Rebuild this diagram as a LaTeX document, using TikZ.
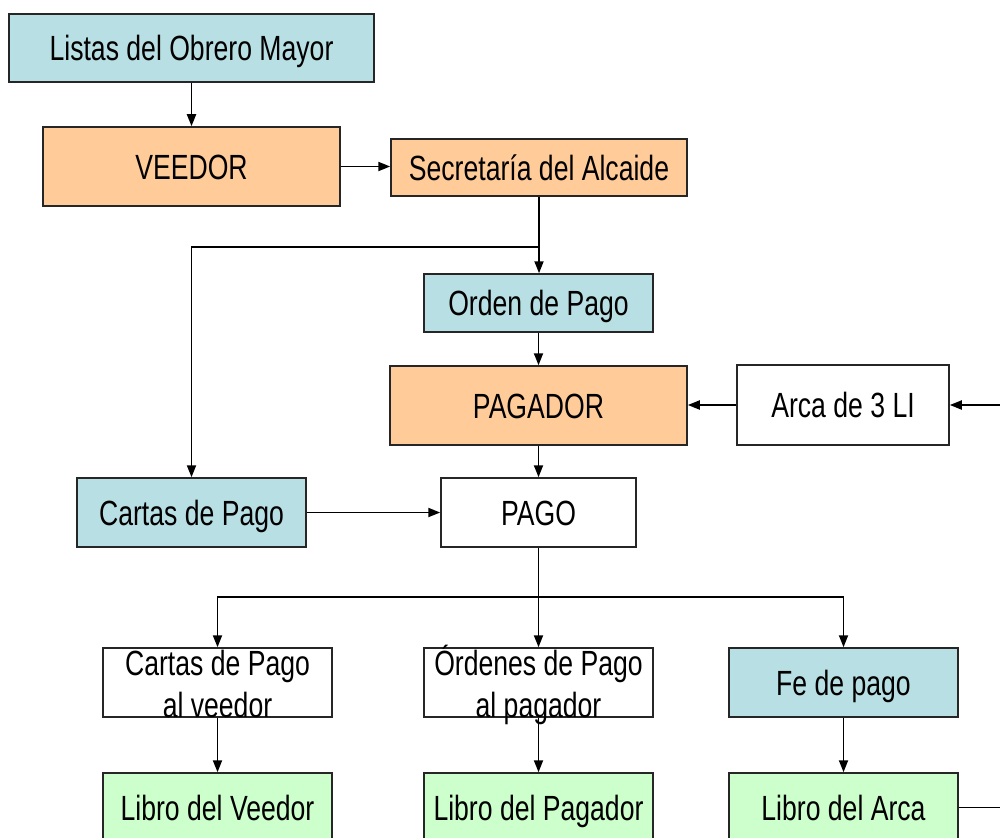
\documentclass[tikz,border=0pt]{standalone}
\usepackage{fontspec}
\setmainfont{Liberation Sans}[FakeStretch=0.76]
\usetikzlibrary{arrows.meta}
\definecolor{cblue}{HTML}{B8DFE3}
\definecolor{corange}{HTML}{FFCC99}
\definecolor{cgreen}{HTML}{CCFFCC}
\begin{document}
\begin{tikzpicture}[x=1pt,y=-1pt,
  box/.style={draw=black!85, line width=1.5pt, inner sep=0pt,
    font=\fontsize{35}{42}\selectfont, text height=25pt, text depth=0pt},
  wide/.style={minimum width=297pt},
  mid/.style={minimum width=229pt},
  rowh/.style={minimum height=69pt},
  txt/.style={inner sep=0pt, font=\fontsize{35}{42}\selectfont, anchor=base},
  arr/.style={line width=1.8pt, -{Triangle[length=12pt,width=9pt]}},
  ln/.style={line width=1.8pt}]
\useasboundingbox (0,0) rectangle (1000,837);
% top
\node[box, fill=cblue, minimum width=365pt, minimum height=68pt] (listas) at (191.5,48) {Listas del Obrero Mayor};
\node[box, fill=corange, wide, minimum height=79pt] (veedor) at (191.5,166.5) {VEEDOR};
\node[box, fill=corange, minimum width=296pt, minimum height=57pt] (secre) at (539,167.5) {Secretaría del Alcaide};
\node[box, fill=cblue, mid, minimum height=58pt] (orden) at (538.5,303) {Orden de Pago};
\node[box, fill=corange, wide, minimum height=79pt] (pagador) at (538.5,405.5) {PAGADOR};
\node[box, fill=white, minimum width=212pt, minimum height=80pt] (arca) at (843,405) {Arca de 3 LI};
\node[box, fill=cblue, mid, rowh] (cartas) at (191.5,512.5) {Cartas de Pago};
\node[box, fill=white, minimum width=195pt, rowh] (pago) at (538.5,512.5) {PAGO};
% row of documents
\node[box, fill=white, mid, rowh] (cv) at (217.5,682.5) {};
\node[txt] (cvtext) at (217.5,675) {\begin{tabular}[t]{@{}c@{}}Cartas de Pago\\al veedor\end{tabular}};
\node[box, fill=white, mid, rowh] (op) at (538.5,682.5) {};
\node[txt] (optext) at (538.5,675) {\begin{tabular}[t]{@{}c@{}}Órdenes de Pago\\al pagador\end{tabular}};
\node[box, fill=cblue, mid, rowh] (fe) at (843.5,682.5) {Fe de pago};
% books
\node[box, fill=cgreen, mid, rowh] (lv) at (217.5,807.5) {Libro del Veedor};
\node[box, fill=cgreen, mid, rowh] (lp) at (538.5,807.5) {Libro del Pagador};
\node[box, fill=cgreen, mid, rowh] (la) at (843.5,807.5) {Libro del Arca};
% connectors
\coordinate (j1) at (539,247);
\coordinate (j2) at (538.5,597);
\coordinate (rin) at (1000,405);
\coordinate (rout) at (1000,807.5);
\draw[arr] (listas) -- (veedor);
\draw[arr] (veedor.east) -- (veedor.east -| secre.west);
\draw[arr] (secre.south) -- (secre.south |- orden.north);
\draw[arr] (j1) -| (cartas.north);
\draw[arr] (orden) -- (pagador);
\draw[arr] (arca.west) -- (arca.west -| pagador.east);
\draw[arr] (rin) -- (arca.east);
\draw[arr] (pagador) -- (pago);
\draw[arr] (cartas) -- (pago);
\draw[ln] (pago.south) -- (j2);
\draw[arr] (j2) -| (cv.north);
\draw[arr] (j2) -| (fe.north);
\draw[arr] (j2) -- (op.north);
\draw[arr] (cv) -- (lv);
\draw[arr] (op) -- (lp);
\draw[arr] (fe) -- (la);
\draw[ln] (la.east) -- (rout);
\end{tikzpicture}
\end{document}
